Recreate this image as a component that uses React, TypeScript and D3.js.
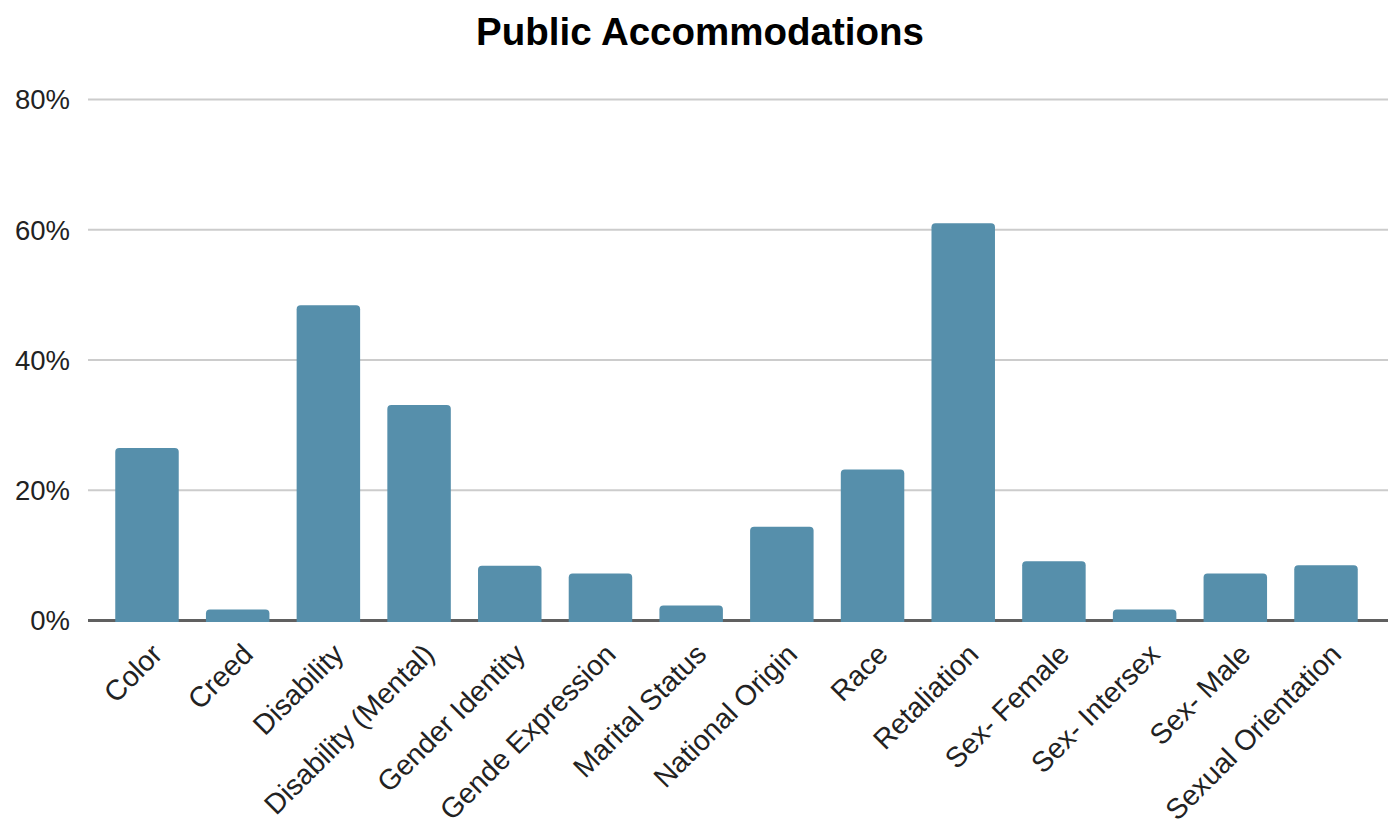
import React from "react";
import * as d3 from "d3";

const categories = [
  "Color",
  "Creed",
  "Disability",
  "Disability (Mental)",
  "Gender Identity",
  "Gende Expression",
  "Marital Status",
  "National Origin",
  "Race",
  "Retaliation",
  "Sex- Female",
  "Sex- Intersex",
  "Sex- Male",
  "Sexual Orientation",
];
const values = [0.265, 0.017, 0.484, 0.331, 0.084, 0.072, 0.023, 0.144, 0.232, 0.61, 0.091, 0.017, 0.072, 0.085];
const yTicks = [0, 0.2, 0.4, 0.6, 0.8];
const title = "Public Accommodations";

const W = 1397;
const H = 825;
const FONT = "Arial, 'Liberation Sans', Helvetica, sans-serif";

function topRoundedBar(x: number, y: number, w: number, h: number, r: number) {
  const rr = Math.min(r, h, w / 2);
  return `M${x},${y + h}V${y + rr}Q${x},${y} ${x + rr},${y}H${x + w - rr}Q${x + w},${y} ${x + w},${y + rr}V${y + h}Z`;
}

export default function App() {
  const x = d3
    .scaleBand<string>()
    .domain(categories)
    .range([101.65, 1371.35])
    .paddingInner(0.3)
    .paddingOuter(0.15);
  const y = d3.scaleLinear().domain([0, 0.8]).range([620.5, 99.5]);
  const fmt = d3.format(".0%");

  return (
    <svg
      width={W}
      height={H}
      style={{ position: "absolute", left: 0, top: 0, display: "block", background: "#fff" }}
      fontFamily={FONT}
    >
      <text x={700} y={45} textAnchor="middle" fontSize={38.5} fontWeight="bold" fill="#000">
        {title}
      </text>
      {yTicks.map((t) => (
        <g key={t}>
          {t > 0 && (
            <line x1={88} x2={1388} y1={y(t)} y2={y(t)} stroke="#cccccc" strokeWidth={2} />
          )}
          <text x={70} y={y(t)} dy="0.36em" textAnchor="end" fontSize={27.5} fill="#222">
            {fmt(t)}
          </text>
        </g>
      ))}
      <line x1={88} x2={1388} y1={y(0)} y2={y(0)} stroke="#606060" strokeWidth={3} />
      {categories.map((c, i) => {
        const bx = x(c)!;
        const bw = x.bandwidth();
        const top = y(values[i]);
        return (
          <path
            key={c}
            d={topRoundedBar(bx, top, bw, y(0) + 1.5 - top, 4)}
            fill="#568fab"
          />
        );
      })}
      {categories.map((c) => {
        const cx = x(c)! + x.bandwidth() / 2;
        const ax = cx + 17;
        const ay = 656;
        return (
          <text
            key={c}
            x={ax}
            y={ay}
            textAnchor="end"
            fontSize={28.5}
            fill="#222"
            transform={`rotate(-45 ${ax} ${ay})`}
          >
            {c}
          </text>
        );
      })}
    </svg>
  );
}
